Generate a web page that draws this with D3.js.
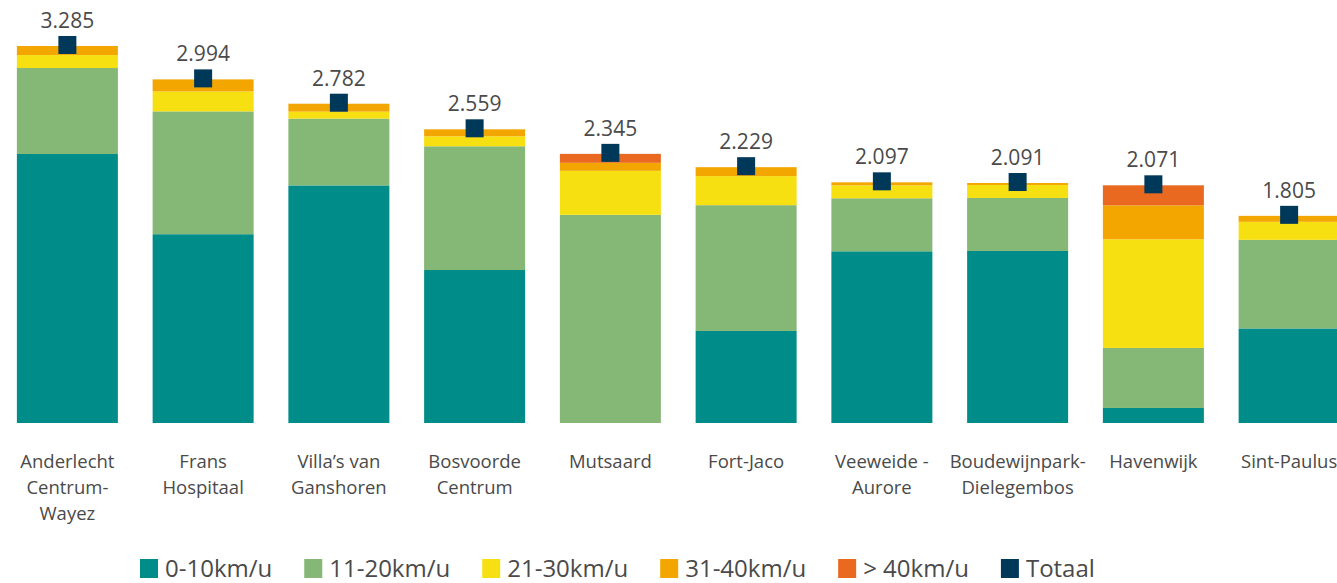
<!DOCTYPE html>
<html>
<head>
<meta charset="utf-8">
<script src="https://cdn.jsdelivr.net/npm/d3@7"></script>
<style>
  html, body { margin: 0; padding: 0; background: #ffffff; overflow: hidden; }
  svg { display: block; font-family: "Open Sans", sans-serif; }
</style>
</head>
<body>
<svg id="chart" width="1337" height="583"></svg>
<script>
// ---- Data ----
const categories = [
  "Anderlecht Centrum-Wayez", "Frans Hospitaal", "Villa’s van Ganshoren", "Bosvoorde Centrum",
  "Mutsaard", "Fort-Jaco", "Veeweide - Aurore", "Boudewijnpark-Dielegembos", "Havenwijk", "Sint-Paulus"
];
const categoryLines = [
  ["Anderlecht", "Centrum-", "Wayez"], ["Frans", "Hospitaal"], ["Villa’s van", "Ganshoren"],
  ["Bosvoorde", "Centrum"], ["Mutsaard"], ["Fort-Jaco"], ["Veeweide -", "Aurore"],
  ["Boudewijnpark-", "Dielegembos"], ["Havenwijk"], ["Sint-Paulus"]
];
const seriesNames = ["0-10km/u", "11-20km/u", "21-30km/u", "31-40km/u", "> 40km/u"];
const speed0to10  = [2344, 1645, 2070, 1333,    0,  802, 1496, 1499, 131, 824];
const speed11to20 = [ 749, 1070,  582, 1078, 1814, 1096,  462,  462, 523, 772];
const speed21to30 = [ 113,  174,   61,   87,  383,  253,  113,  113, 947, 157];
const speed31to40 = [  79,  105,   69,   61,   70,   78,   26,   17, 296,  52];
const speedOver40 = [   0,    0,    0,    0,   78,    0,    0,    0, 174,   0];
const totals      = [3285, 2994, 2782, 2559, 2345, 2229, 2097, 2091, 2071, 1805];
const totalName = "Totaal";

const colors = ["#008d89", "#85b776", "#f6e012", "#f3a600", "#e8691f"];
const totalColor = "#00385a";
const textColor = "#4a4a4a";

// ---- Build table ----
const seriesValues = [speed0to10, speed11to20, speed21to30, speed31to40, speedOver40];
const table = categories.map((c, i) => {
  const row = { cat: c, idx: i, total: totals[i] };
  seriesNames.forEach((s, k) => row[s] = seriesValues[k][i]);
  return row;
});
const stacked = d3.stack().keys(seriesNames)(table);

const svg = d3.select("#chart");
const nf = d3.formatLocale({ decimal: ",", thousands: ".", grouping: [3], currency: ["€", ""] }).format(",d");

// ---- Scales ----
const x = d3.scaleBand().domain(categories).range([-0.5, 1357]).paddingInner(0.256).paddingOuter(0.128);
const y = d3.scaleLinear().domain([0, 3500]).range([423, 423 - 3500 * 0.11477]);

// ---- Bars ----
const g = svg.append("g");
g.selectAll("g.series").data(stacked).join("g")
  .attr("class", "series")
  .attr("fill", (d, i) => colors[i])
  .selectAll("rect").data(d => d).join("rect")
  .attr("x", d => x(d.data.cat))
  .attr("width", x.bandwidth())
  .attr("y", d => y(d[1]))
  .attr("height", d => Math.max(0, y(d[0]) - y(d[1])));

// ---- Totaal markers + labels ----
const ms = 18;
g.selectAll("rect.total").data(table).join("rect")
  .attr("class", "total")
  .attr("x", d => x(d.cat) + x.bandwidth() / 2 - ms / 2)
  .attr("y", d => y(d.total) - ms / 2 - 1)
  .attr("width", ms).attr("height", ms)
  .attr("fill", totalColor);

g.selectAll("text.total").data(table).join("text")
  .attr("class", "total")
  .attr("x", d => x(d.cat) + x.bandwidth() / 2)
  .attr("y", d => y(d.total) - 18)
  .attr("text-anchor", "middle")
  .attr("font-size", 21)
  .attr("fill", textColor)
  .text(d => nf(d.total));

// ---- X axis labels ----
const xAxis = d3.axisBottom(x).tickSize(0).tickFormat("");
const ax = svg.append("g").attr("transform", "translate(0,423)").call(xAxis);
ax.select(".domain").remove();
ax.selectAll(".tick").each(function(d, i) {
  const t = d3.select(this).append("text")
    .attr("text-anchor", "middle")
    .attr("fill", textColor)
    .attr("font-size", 18.5)
    .attr("font-family", "'Open Sans', sans-serif");
  categoryLines[i].forEach((line, k) => {
    t.append("tspan").attr("x", 0).attr("y", 45 + k * 26).text(line);
  });
});

// ---- Legend ----
const legendItems = seriesNames.map((s, i) => ({ name: s, color: colors[i] }))
  .concat([{ name: totalName, color: totalColor }]);
const legend = svg.append("g");
let lx = 140;
legendItems.forEach(item => {
  const it = legend.append("g").attr("transform", `translate(${lx},0)`);
  it.append("rect").attr("x", 0).attr("y", 559).attr("width", 18).attr("height", 19).attr("fill", item.color);
  const t = it.append("text").attr("x", 25).attr("y", 576.5)
    .attr("font-size", 24).attr("fill", textColor).text(item.name);
  lx += 25 + t.node().getComputedTextLength() + 32;
});
</script>
</body>
</html>
